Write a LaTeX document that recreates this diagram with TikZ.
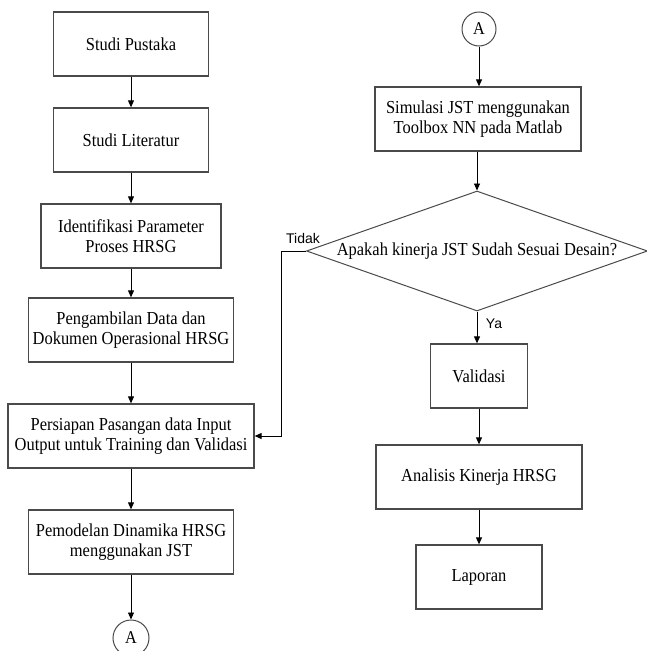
\documentclass[tikz,border=0pt]{standalone}
\usepackage{fontspec}
\setmainfont[FakeStretch=0.9]{Liberation Serif}
\newfontfamily\labelfont{Liberation Sans}
\usetikzlibrary{shapes.geometric,arrows.meta}
\definecolor{boxgray}{HTML}{4A4A4A}
\begin{document}
\begin{tikzpicture}[x=1pt,y=-1pt,
  procbox/.style={draw=boxgray,line width=1.3pt,fill=white,rectangle,inner sep=0pt,
    align=center,font=\fontsize{18.3}{20}\selectfont},
  connector/.style={draw=black,line width=0.9pt,-{Triangle[length=7pt,width=6pt]}},
  conncircle/.style={draw=boxgray,line width=1pt,circle,inner sep=0pt,font=\fontsize{18}{20}\selectfont},
  branchlabel/.style={font=\labelfont\fontsize{14}{15}\selectfont,inner sep=0pt}]
\useasboundingbox (0,0) rectangle (647,651);
% left column
\node[procbox,minimum width=155pt,minimum height=64pt] (b1) at (131,44) {Studi Pustaka};
\node[procbox,minimum width=155pt,minimum height=64pt] (b2) at (131,140) {Studi Literatur};
\node[procbox,minimum width=180pt,minimum height=64pt] (b3) at (131,236) {Identifikasi Parameter\\Proses HRSG};
\node[procbox,minimum width=205pt,minimum height=64pt] (b4) at (131,330) {Pengambilan Data dan\\Dokumen Operasional HRSG};
\node[procbox,minimum width=246pt,minimum height=64pt] (b5) at (131,436) {Persiapan Pasangan data Input\\Output untuk Training dan Validasi};
\node[procbox,minimum width=205pt,minimum height=64pt] (b6) at (131,542) {Pemodelan Dinamika HRSG\\menggunakan JST};
\node[conncircle,minimum size=36pt] (a1) at (131,638) {A};
% right column
\node[conncircle,minimum size=34pt] (a2) at (479,29) {A};
\node[procbox,minimum width=206pt,minimum height=64pt] (s1) at (478,119) {Simulasi JST menggunakan\\Toolbox NN pada Matlab};
\node[draw=boxgray,line width=1pt,diamond,aspect=2.84,inner sep=0pt,minimum width=341pt,minimum height=120pt,
  font=\fontsize{18.3}{20}\selectfont] (d1) at (477,251) {Apakah kinerja JST Sudah Sesuai Desain?};
\node[procbox,minimum width=97pt,minimum height=64pt] (v1) at (479,376) {Validasi};
\node[procbox,minimum width=206pt,minimum height=64pt] (an) at (479,477) {Analisis Kinerja HRSG};
\node[procbox,minimum width=126pt,minimum height=64pt] (lp) at (479,577) {Laporan};
% connectors
\draw[connector] (b1) -- (b2);
\draw[connector] (b2) -- (b3);
\draw[connector] (b3) -- (b4);
\draw[connector] (b4) -- (b5);
\draw[connector] (b5) -- (b6);
\draw[connector] (b6) -- (a1);
\draw[connector] (a2) -- (a2 |- s1.north);
\draw[connector] (s1.south -| d1.north) -- (d1.north);
\draw[connector] (d1.south) -- (d1.south |- v1.north);
\draw[connector] (v1) -- (an);
\draw[connector] (an) -- (lp);
\coordinate (tk) at (281,251);
\draw[connector] (d1.west) -- (tk) -- (tk |- b5.east) -- (b5.east);
\node[branchlabel] (tidak) at (303,238) {Tidak};
\node[branchlabel] (ya) at (494,324) {Ya};
\end{tikzpicture}
\end{document}
